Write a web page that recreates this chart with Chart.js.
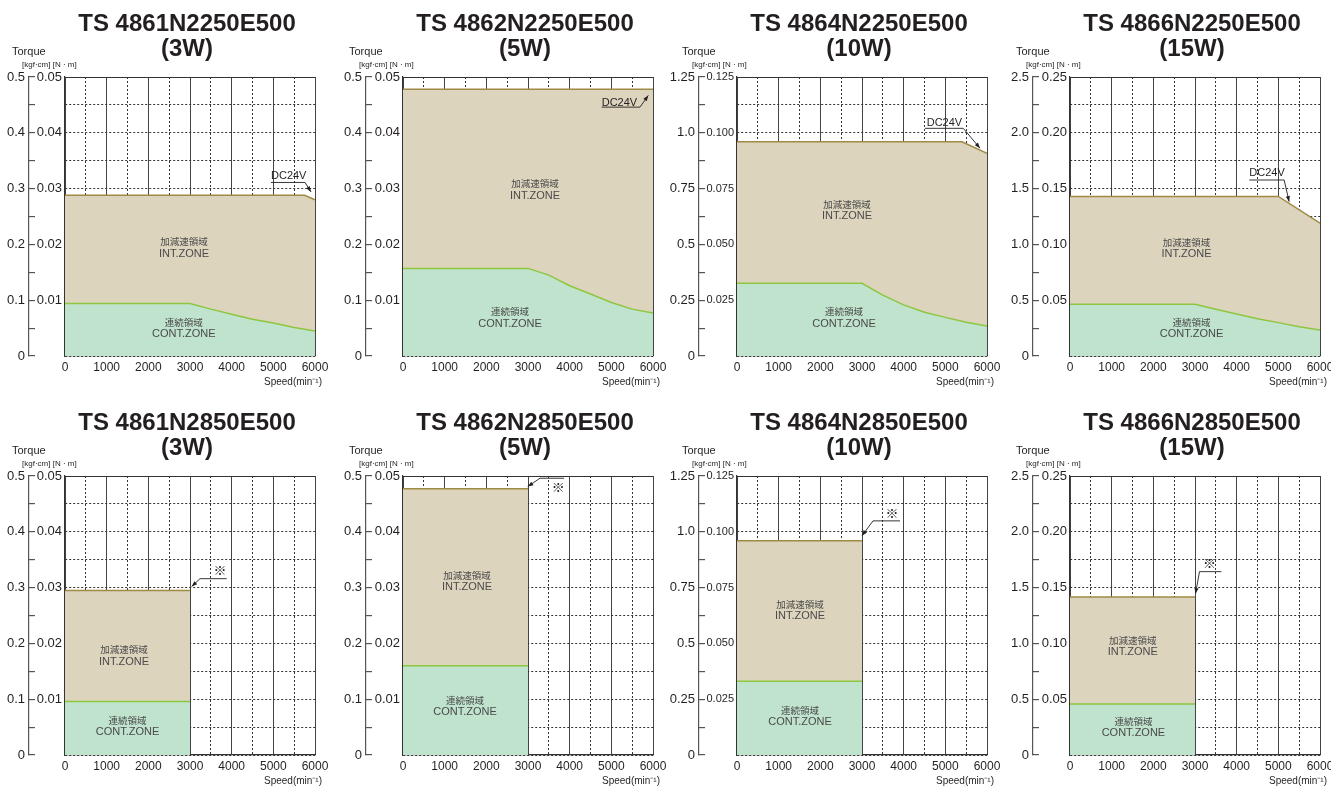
<!DOCTYPE html>
<html>
<head>
<meta charset="utf-8">
<script src="https://cdn.jsdelivr.net/npm/chart.js@4.4.0/dist/chart.umd.min.js"></script>
<style>
  html, body { margin: 0; padding: 0; background: #fff; overflow: hidden; }
  body { width: 1331px; height: 787px; position: relative; }
  canvas { position: absolute; }
</style>
</head>
<body>
<script>
// --- data ---
const speedLabels = ['0', '1000', '2000', '3000', '4000', '5000', '6000'];

const nmLabels05 = ['', '0.01', '0.02', '0.03', '0.04', '0.05'];
const kgfLabels05 = ['0', '0.1', '0.2', '0.3', '0.4', '0.5'];
const nmLabels125 = ['', '0.025', '0.050', '0.075', '0.100', '0.125'];
const kgfLabels125 = ['0', '0.25', '0.5', '0.75', '1.0', '1.25'];
const nmLabels25 = ['', '0.05', '0.10', '0.15', '0.20', '0.25'];
const kgfLabels25 = ['0', '0.5', '1.0', '1.5', '2.0', '2.5'];

// speed points of the continuous curves (N2250) and of the short ones (N2850)
const contSpeed = [0, 3000, 3500, 4000, 4500, 5000, 5500, 6000];
const shortSpeed = [0, 3000];

// TS 4861N2250E500 (3W)
const int4861Speed = [0, 5750, 6000];
const int4861Torque = [0.0288, 0.0288, 0.0280];
const cont4861Torque = [0.0094, 0.0094, 0.0084, 0.0075, 0.0066, 0.0059, 0.0051, 0.0045];
// TS 4862N2250E500 (5W)
const int4862Speed = [0, 6000];
const int4862Torque = [0.0478, 0.0478];
const cont4862Torque = [0.0157, 0.0157, 0.0145, 0.0126, 0.0111, 0.0096, 0.0084, 0.0077];
// TS 4864N2250E500 (10W)
const int4864Speed = [0, 5400, 6000];
const int4864Torque = [0.0960, 0.0960, 0.0908];
const cont4864Torque = [0.0326, 0.0326, 0.0273, 0.0229, 0.0196, 0.0173, 0.0151, 0.0134];
// TS 4866N2250E500 (15W)
const int4866Speed = [0, 5000, 6000];
const int4866Torque = [0.1430, 0.1430, 0.1190];
const cont4866Torque = [0.0463, 0.0463, 0.0418, 0.0376, 0.0334, 0.0299, 0.0263, 0.0233];

// N2850 models, 0-3000 only
const int4861ShortTorque = [0.0295, 0.0295];
const cont4861ShortTorque = [0.0096, 0.0096];
const int4862ShortTorque = [0.0477, 0.0477];
const cont4862ShortTorque = [0.0160, 0.0160];
const int4864ShortTorque = [0.0960, 0.0960];
const cont4864ShortTorque = [0.0330, 0.0330];
const int4866ShortTorque = [0.1415, 0.1415];
const cont4866ShortTorque = [0.0458, 0.0458];

const FONT = "'Liberation Sans', Arial, 'Noto Sans CJK JP', sans-serif";
Chart.defaults.font.family = FONT;
Chart.defaults.color = '#231f20';

// columns / rows on the page
const PAD_RIGHT = 24;
const cols = [
	{ left: 0, outerW: 29, innerW: 36, plotW: 250 },
	{ left: 338, outerW: 28, innerW: 37, plotW: 250 },
	{ left: 669, outerW: 30, innerW: 38, plotW: 250 },
	{ left: 1003, outerW: 30, innerW: 37, plotW: 250 }
];
const rowTops = [0, 399];

const charts = [
	{ title: ['TS 4861N2250E500', '(3W)'], max: 0.05, nm: nmLabels05, kgf: kgfLabels05,
	  intX: int4861Speed, intY: int4861Torque, contX: contSpeed, contY: cont4861Torque,
	  zones: [[2856, 0.0193], [2850, 0.0049]],
	  callout: { text: 'DC24V', at: [4944, 0.0323], path: [[4944, 0.0311], [5760, 0.0311], [5904, 0.0294]] } },
	{ title: ['TS 4862N2250E500', '(5W)'], max: 0.05, nm: nmLabels05, kgf: kgfLabels05,
	  intX: int4862Speed, intY: int4862Torque, contX: contSpeed, contY: cont4862Torque,
	  zones: [[3168, 0.0297], [2568, 0.0068]],
	  callout: { text: 'DC24V', at: [4769, 0.0454], path: [[4769, 0.0446], [5688, 0.0446], [5887, 0.0467]] } },
	{ title: ['TS 4864N2250E500', '(10W)'], max: 0.125, nm: nmLabels125, kgf: kgfLabels125, nmSize: 11,
	  intX: int4864Speed, intY: int4864Torque, contX: contSpeed, contY: cont4864Torque,
	  zones: [[2640, 0.065], [2570, 0.017]],
	  callout: { text: 'DC24V', at: [4553, 0.1044], path: [[4512, 0.1020], [5431, 0.1020], [5832, 0.0931]] } },
	{ title: ['TS 4866N2250E500', '(15W)'], max: 0.25, nm: nmLabels25, kgf: kgfLabels25,
	  intX: int4866Speed, intY: int4866Torque, contX: contSpeed, contY: cont4866Torque,
	  zones: [[2797, 0.096], [2916, 0.0246]],
	  callout: { text: 'DC24V', at: [4303, 0.1644], path: [[4303, 0.1577], [5139, 0.1577], [5259, 0.1383]] } },
	{ title: ['TS 4861N2850E500', '(3W)'], max: 0.05, nm: nmLabels05, kgf: kgfLabels05,
	  intX: shortSpeed, intY: int4861ShortTorque, contX: shortSpeed, contY: cont4861ShortTorque,
	  zones: [[1416, 0.0177], [1500, 0.0051]],
	  callout: { text: '※', center: true, at: [3720, 0.0329], path: [[3880, 0.0316], [3240, 0.0316], [3040, 0.0302]] } },
	{ title: ['TS 4862N2850E500', '(5W)'], max: 0.05, nm: nmLabels05, kgf: kgfLabels05,
	  intX: shortSpeed, intY: int4862ShortTorque, contX: shortSpeed, contY: cont4862ShortTorque,
	  zones: [[1536, 0.0311], [1488, 0.0087]],
	  callout: { text: '※', center: true, at: [3727, 0.0478], path: [[3864, 0.0496], [3288, 0.0496], [2993, 0.0481]] } },
	{ title: ['TS 4864N2850E500', '(10W)'], max: 0.125, nm: nmLabels125, kgf: kgfLabels125, nmSize: 11,
	  intX: shortSpeed, intY: int4864ShortTorque, contX: shortSpeed, contY: cont4864ShortTorque,
	  zones: [[1512, 0.0647], [1512, 0.0172]],
	  callout: { text: '※', center: true, at: [3720, 0.108], path: [[3912, 0.1049], [3264, 0.1049], [3000, 0.0982]] } },
	{ title: ['TS 4866N2850E500', '(15W)'], max: 0.25, nm: nmLabels25, kgf: kgfLabels25,
	  intX: shortSpeed, intY: int4866ShortTorque, contX: shortSpeed, contY: cont4866ShortTorque,
	  zones: [[1506, 0.0969], [1522, 0.0244]],
	  callout: { text: '※', center: true, at: [3347, 0.1705], path: [[3633, 0.1643], [3108, 0.1643], [3012, 0.1446]] } }
];

// titles, zone names, unit labels and callouts
const notesPlugin = {
	id: 'motorNotes',
	afterDatasetsDraw(chart, args, o) {
		const { ctx, scales: { x, y } } = chart;
		const names = [['加減速領域', 'INT.ZONE'], ['連続領域', 'CONT.ZONE']];
		ctx.save();
		ctx.fillStyle = '#4a4a4a';
		ctx.textAlign = 'center';
		ctx.textBaseline = 'middle';
		o.zones.forEach((z, i) => {
			const px = x.getPixelForValue(z[0]);
			const py = y.getPixelForValue(z[1]);
			ctx.font = '9.5px ' + FONT;
			ctx.fillText(names[i][0], px, py - 5.5);
			ctx.font = '11px ' + FONT;
			ctx.fillText(names[i][1], px, py + 5.5);
		});
		ctx.restore();
	},
	afterDraw(chart, args, o) {
		const { ctx, chartArea: a, scales: { x, y, k } } = chart;
		ctx.save();
		ctx.fillStyle = '#231f20';
		ctx.strokeStyle = '#231f20';
		ctx.textBaseline = 'middle';

		// title
		ctx.textAlign = 'center';
		ctx.font = 'bold 24px ' + FONT;
		const cx = (a.left + a.right) / 2 - 3;
		ctx.fillText(o.title[0], cx, a.top - 53);
		ctx.fillText(o.title[1], cx, a.top - 28);

		// torque unit labels
		ctx.textAlign = 'left';
		ctx.font = '11px ' + FONT;
		ctx.fillText('Torque', k.right - 17, a.top - 25);
		ctx.font = '8px ' + FONT;
		ctx.fillText('[kgf·cm] [N · m]', k.right - 7, a.top - 12);

		// speed unit, a bit past the right edge as in the catalogue
		ctx.textAlign = 'right';
		ctx.font = '10px ' + FONT;
		ctx.fillText('Speed(min⁻¹)', a.right + 7, a.bottom + 26);

		// callout leader + arrow
		const c = o.callout;
		const pts = c.path.map(p => [x.getPixelForValue(p[0]), y.getPixelForValue(p[1])]);
		ctx.lineWidth = 0.9;
		ctx.beginPath();
		pts.forEach((p, i) => i ? ctx.lineTo(p[0], p[1]) : ctx.moveTo(p[0], p[1]));
		ctx.stroke();
		const [x1, y1] = pts[pts.length - 2];
		const [x2, y2] = pts[pts.length - 1];
		const ang = Math.atan2(y2 - y1, x2 - x1);
		ctx.beginPath();
		ctx.moveTo(x2, y2);
		ctx.lineTo(x2 - 6 * Math.cos(ang - 0.35), y2 - 6 * Math.sin(ang - 0.35));
		ctx.lineTo(x2 - 6 * Math.cos(ang + 0.35), y2 - 6 * Math.sin(ang + 0.35));
		ctx.closePath();
		ctx.fill();

		ctx.font = (c.center ? '13px ' : '11px ') + FONT;
		ctx.textAlign = c.center ? 'center' : 'left';
		ctx.fillText(c.text, x.getPixelForValue(c.at[0]), y.getPixelForValue(c.at[1]));
		ctx.restore();
	}
};

const toPoints = (xs, ys) => xs.map((v, i) => ({ x: v, y: ys[i] }));

charts.forEach((def, n) => {
	const col = cols[n % 4];
	const top = rowTops[Math.floor(n / 4)];
	const canvas = document.createElement('canvas');
	canvas.width = col.outerW + col.innerW + col.plotW + PAD_RIGHT;
	canvas.height = 393;
	canvas.style.left = col.left + 'px';
	canvas.style.top = top + 'px';
	document.body.appendChild(canvas);

	new Chart(canvas.getContext('2d'), {
		type: 'line',
		data: {
			datasets: [{
				data: toPoints(def.contX, def.contY),
				borderColor: '#8dc63f',
				backgroundColor: '#bfe3cc',
				borderWidth: 1.5,
				fill: 'origin',
				pointRadius: 0,
				tension: 0
			}, {
				data: toPoints(def.intX, def.intY),
				borderColor: '#a08a45',
				backgroundColor: '#ddd4be',
				borderWidth: 1.5,
				fill: 'origin',
				pointRadius: 0,
				tension: 0
			}]
		},
		options: {
			responsive: false,
			animation: false,
			events: [],
			layout: { padding: { top: 77, right: PAD_RIGHT, left: 0, bottom: 0 } },
			plugins: {
				legend: { display: false },
				tooltip: { enabled: false },
				motorNotes: def
			},
			scales: {
				x: {
					type: 'linear', min: 0, max: 6000, z: 1,
					ticks: {
						stepSize: 500, autoSkip: false, maxRotation: 0, padding: 4,
						font: { size: 12 },
						callback: v => v % 1000 === 0 ? speedLabels[v / 1000] : ''
					},
					grid: {
						drawTicks: false, lineWidth: 1,
						color: c => c.tick && c.tick.value % 1000 === 0 ? '#444' : '#333'
					},
					border: {
						color: '#333', width: 1.2,
						dash: c => c.tick && c.tick.value % 1000 !== 0 ? [2, 2] : []
					},
					afterFit: s => { s.height = 37; }
				},
				y: {
					type: 'linear', min: 0, max: def.max, z: 1, weight: 0,
					ticks: {
						count: 11, autoSkip: false, padding: 3,
						font: { size: def.nmSize || 13 },
						callback: (v, i) => i % 2 === 0 ? def.nm[i / 2] : ''
					},
					grid: { drawTicks: false, color: '#333', lineWidth: 1 },
					border: {
						color: '#333', width: 1.2,
						dash: c => c.tick && c.index < 10 ? [2, 2] : []
					},
					afterFit: s => { s.width = col.innerW; }
				},
				k: {
					type: 'linear', position: 'left', min: 0, max: def.max * 10, weight: 1,
					ticks: {
						count: 11, autoSkip: false, padding: 10,
						font: { size: 13 },
						callback: (v, i) => i % 2 === 0 ? def.kgf[i / 2] : ''
					},
					grid: { drawOnChartArea: false, drawTicks: true, tickLength: -6, color: '#555', lineWidth: 1.2 },
					border: { color: '#555', width: 1.2 },
					afterFit: s => { s.width = col.outerW; }
				}
			}
		},
		plugins: [notesPlugin]
	});
});
</script>
</body>
</html>
